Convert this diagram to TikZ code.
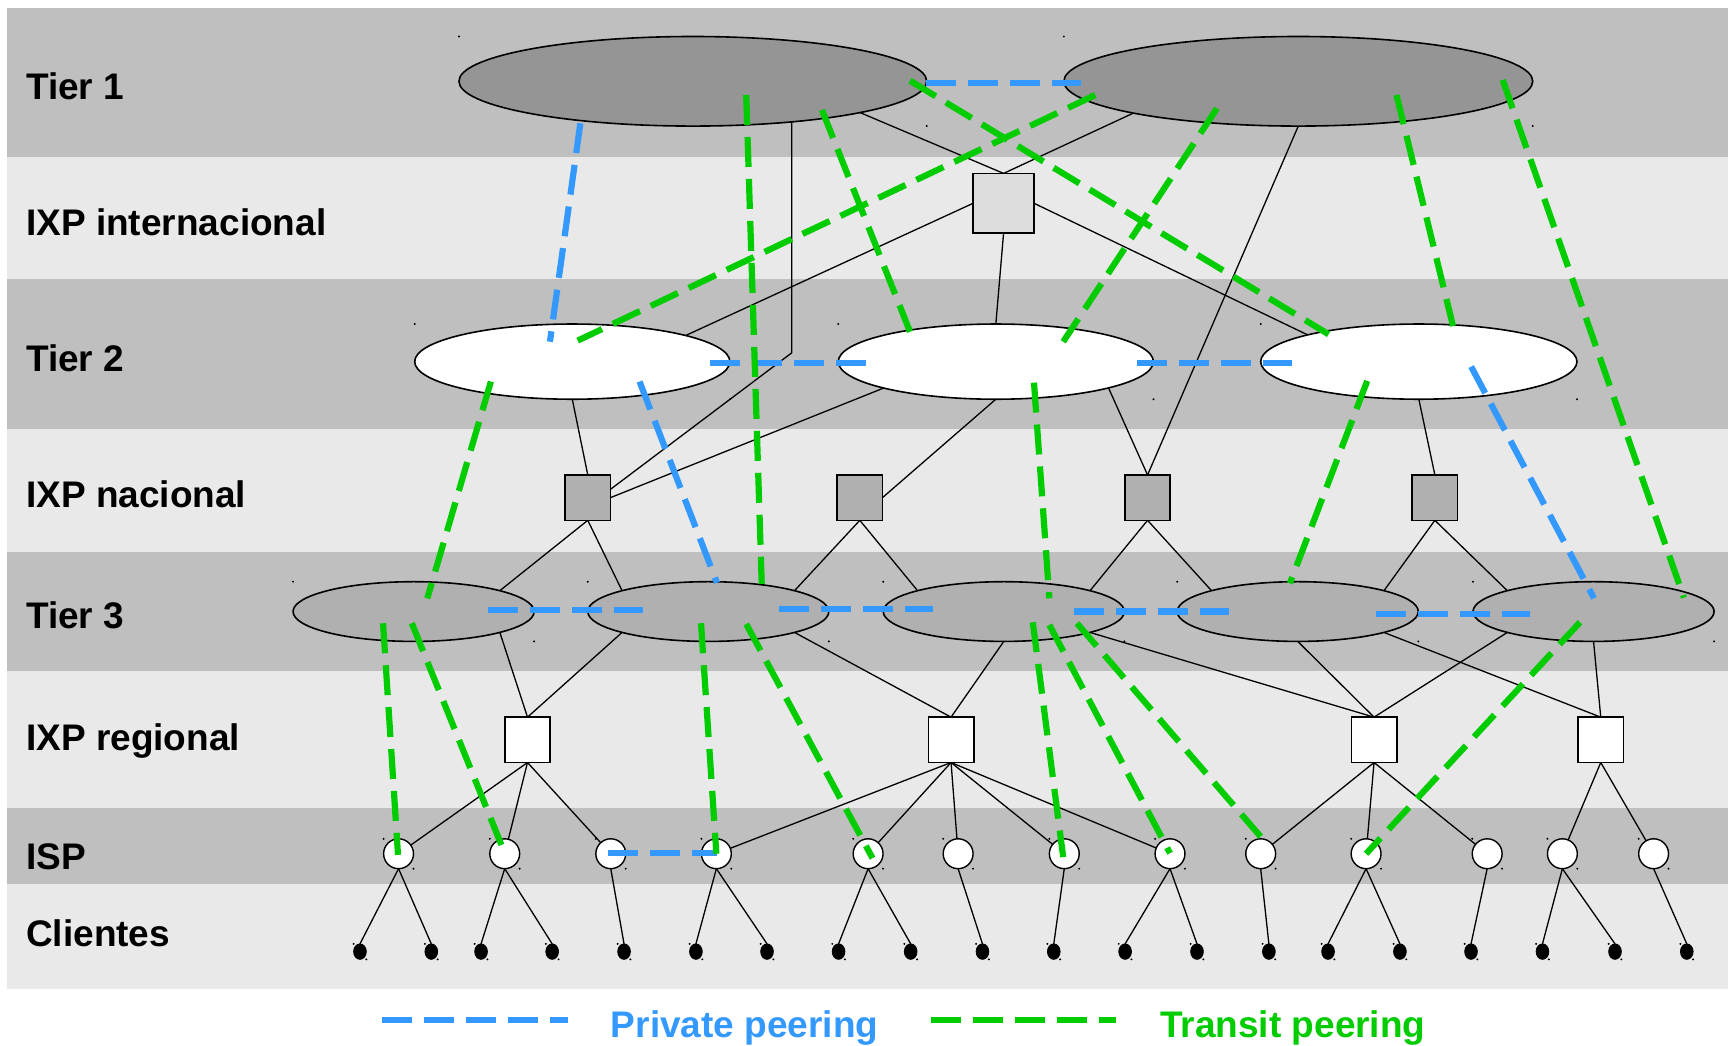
\documentclass[tikz,border=0pt]{standalone}
\usepackage{fontspec}
\setmainfont{Liberation Sans}
\usetikzlibrary{shapes.geometric,calc}
\def\uu{1.1059pt}
\definecolor{bandD}{HTML}{BFBFBF}
\definecolor{bandL}{HTML}{E9E9E9}
\definecolor{tone}{HTML}{959595}
\definecolor{tthree}{HTML}{B0B0B0}
\definecolor{ixint}{HTML}{DCDCDC}
\definecolor{pblue}{HTML}{3399FF}
\definecolor{tgreen}{HTML}{00CC00}
\pgfdeclarelayer{bands}
\pgfdeclarelayer{wires}
\pgfsetlayers{bands,wires,main}
\begin{document}
\begin{tikzpicture}[x=\uu,y=-\uu,
  lbl/.style={anchor=base west, inner sep=0, font=\fontsize{37}{40}\selectfont\bfseries},
  ell/.style={ellipse, draw, line width=1.6pt, inner sep=0, outer sep=0},
  box/.style={rectangle, draw, line width=1.6pt, inner sep=0, outer sep=0, minimum width=41*\uu, minimum height=41*\uu},
  ispnode/.style={ell, fill=white, line width=1.4pt, minimum width=27*\uu, minimum height=27*\uu},
  client/.style={ell, fill=black, line width=0.8pt, minimum width=11.5*\uu, minimum height=14*\uu},
  wire/.style={line width=1.3pt, black},
  dashline/.style={line width=6.2pt, dash pattern=on 30pt off 12pt},
  priv/.style={dashline, pblue},
  trans/.style={dashline, tgreen}]
\useasboundingbox (0,0) rectangle (1568,945);

% ---------- bands ----------
\begin{pgfonlayer}{bands}
\fill[white] (0,0) rectangle (1568,945);
\fill[bandD] (6,7)   rectangle (1563,142);
\fill[bandL] (6,142) rectangle (1563,252);
\fill[bandD] (6,252) rectangle (1563,388);
\fill[bandL] (6,388) rectangle (1563,499);
\fill[bandD] (6,499) rectangle (1563,607);
\fill[bandL] (6,607) rectangle (1563,731);
\fill[bandD] (6,731) rectangle (1563,799);
\fill[bandL] (6,799) rectangle (1563,894);
\end{pgfonlayer}

% ---------- labels ----------
\node[lbl] (lt1) at (23.5,89.8) {Tier 1};
\node[lbl] (lixi) at (23.5,213.1) {IXP internacional};
\node[lbl] (lt2) at (23.5,336.1) {Tier 2};
\node[lbl] (lixn) at (23.5,459.1) {IXP nacional};
\node[lbl] (lt3) at (23.5,568.1) {Tier 3};
\node[lbl] (lixr) at (23.5,678.2) {IXP regional};
\node[lbl] (lisp) at (23.5,786.7) {ISP};
\node[lbl] (lcli) at (23.5,856.0) {Clientes};

% ---------- nodes ----------
\node[ell, fill=tone, minimum width=423*\uu, minimum height=81*\uu] (t1a) at (626.5,73.5) {};
\node[ell, fill=tone, minimum width=424*\uu, minimum height=81*\uu] (t1b) at (1174,73.5) {};
\node[box, fill=ixint, minimum width=55*\uu, minimum height=54*\uu] (ixi) at (907.5,183.8) {};
\node[ell, fill=white, minimum width=285*\uu, minimum height=68*\uu] (t2a) at (517.5,327) {};
\node[ell, fill=white, minimum width=285*\uu, minimum height=68*\uu] (t2b) at (900.5,327) {};
\node[ell, fill=white, minimum width=286*\uu, minimum height=68*\uu] (t2c) at (1283,327) {};
\foreach \x [count=\k] in {531.5,777.5,1037.7,1297.5}
  \node[box, fill=tthree] (n\k) at (\x,450) {};
\foreach \x [count=\k] in {374,640.5,907.7,1173.5,1441}
  \node[ell, fill=tthree, minimum width=218*\uu, minimum height=54*\uu] (e\k) at (\x,553) {};
\foreach \x [count=\k] in {477,860,1242.5,1447.5}
  \node[box, fill=white] (r\k) at (\x,669) {};
\foreach \x [count=\k] in {360.4,456.4,552.3,647.8,785,866.4,962.4,1058,1140,1235.3,1344.8,1412.8,1495.3}
  \node[ispnode] (i\k) at (\x,772) {};
\foreach \x [count=\k] in {325.5,390,435,499.3,564.3,629.3,693.6,758.3,823.5,888.4,952.9,1017.4,1082.4,1147.4,1200.9,1265.9,1330.2,1394.8,1460.4,1525.3}
  \node[client] (c\k) at (\x,860.5) {};

% corner marks
\foreach \n in {t1a,t1b,t2a,t2b,t2c,e1,e2,e3,e4,e5,i1,i2,i3,i4,i5,i6,i7,i8,i9,i10,i11,i12,i13,c1,c2,c3,c4,c5,c6,c7,c8,c9,c10,c11,c12,c13,c14,c15,c16,c17,c18,c19,c20}{
  \fill ($(\n.north -| \n.west)$) circle (1.1pt);
  \fill ($(\n.south -| \n.east)$) circle (1.1pt);
}

% ---------- solid connectors ----------
\begin{pgfonlayer}{wires}
\draw[wire] ([shift={(151.2,28.3)}]t1a.center) -- (ixi.north);
\draw[wire] ([shift={(-149.2,28.8)}]t1b.center) -- (ixi.north);
\draw[wire] ([shift={(89.5,36.7)}]t1a.center) -- ([shift={(89.5,245.5)}]t1a.center) -- ([shift={(0,-7.5)}]n1.east);
\draw[wire] (ixi.west) -- ([shift={(102.5,-23.6)}]t2a.center);
\draw[wire] (ixi.south) -- (t2b.north);
\draw[wire] (ixi.east) -- ([shift={(-100.6,-24.2)}]t2c.center);
\draw[wire] (t1b.south) -- (n3.north);
\draw[wire] (t2a.south) -- (n1.north);
\draw[wire] ([shift={(-101.5,23.9)}]t2b.center) -- (n1.east);
\draw[wire] (t2b.south) -- (n2.east);
\draw[wire] ([shift={(101.9,23.8)}]t2b.center) -- (n3.north);
\draw[wire] (t2c.south) -- (n4.north);
% nacional -> tier 3
\draw[wire] (n1.south) -- ([shift={(78,-18.9)}]e1.center);
\draw[wire] (n1.south) -- ([shift={(-78,-18.9)}]e2.center);
\draw[wire] (n2.south) -- ([shift={(78,-18.9)}]e2.center);
\draw[wire] (n2.south) -- ([shift={(-78,-18.9)}]e3.center);
\draw[wire] (n3.south) -- ([shift={(78,-18.9)}]e3.center);
\draw[wire] (n3.south) -- ([shift={(-78,-18.9)}]e4.center);
\draw[wire] (n4.south) -- ([shift={(78,-18.9)}]e4.center);
\draw[wire] (n4.south) -- ([shift={(-78,-18.9)}]e5.center);
% tier 3 -> regional
\draw[wire] ([shift={(78,18.9)}]e1.center) -- (r1.north);
\draw[wire] ([shift={(-78,18.9)}]e2.center) -- (r1.north);
\draw[wire] ([shift={(78,18.9)}]e2.center) -- (r2.north);
\draw[wire] (e3.south) -- (r2.north);
\draw[wire] ([shift={(78,18.9)}]e3.center) -- (r3.north);
\draw[wire] (e4.south) -- (r3.north);
\draw[wire] ([shift={(78,18.9)}]e4.center) -- (r4.north);
\draw[wire] ([shift={(-78,18.9)}]e5.center) -- (r3.north);
\draw[wire] (e5.south) -- (r4.north);
% regional -> ISP
\foreach \k in {1,2,3} \draw[wire] (r1.south) -- (i\k);
\foreach \k in {4,5,6,7,8} \draw[wire] (r2.south) -- (i\k);
\foreach \k in {9,10,11} \draw[wire] (r3.south) -- (i\k);
\foreach \k in {12,13} \draw[wire] (r4.south) -- (i\k);
% ISP -> clients
\foreach \a/\b in {1/1,1/2,2/3,2/4,3/5,4/6,4/7,5/8,5/9,6/10,7/11,8/12,8/13,9/14,10/15,10/16,11/17,12/18,12/19,13/20}
  \draw[wire] (i\a.south) -- (c\b.north);
\end{pgfonlayer}

% ---------- private peering ----------
\draw[priv] ([shift={(210.8,1.2)}]t1a.center) -- ([shift={(-196.8,1.2)}]t1b.center);
\draw[priv] ([shift={(-101.7,38)}]t1a.center) -- ([shift={(-20.2,-18)}]t2a.center);
\draw[priv] ([shift={(124.7,1.5)}]t2a.center) -- ([shift={(-117.5,1.5)}]t2b.center);
\draw[priv] ([shift={(127.5,1.5)}]t2b.center) -- ([shift={(-115.1,1.5)}]t2c.center);
\draw[priv] ([shift={(60.8,18)}]t2a.center) -- ([shift={(7.8,-26.1)}]e2.center);
\draw[priv] ([shift={(47.3,4.5)}]t2c.center) -- ([shift={(0.4,-12)}]e5.center);
\draw[priv] ([shift={(67.3,-1.1)}]e1.center) -- ([shift={(-59.1,-1.1)}]e2.center);
\draw[priv] ([shift={(64.3,-2.3)}]e2.center) -- ([shift={(-63.7,-2.3)}]e3.center);
\draw[priv] ([shift={(63.7,0)}]e3.center) -- ([shift={(-62.2,0)}]e4.center);
\draw[priv] ([shift={(70.4,2.2)}]e4.center) -- ([shift={(-57.2,2.2)}]e5.center);
\draw[priv] ([shift={(-2.5,-0.6)}]i3.center) -- ([shift={(0.5,-0.6)}]i4.center);

% ---------- transit peering ----------
\draw[trans] ([shift={(196.4,-0.5)}]t1a.center) -- ([shift={(-81.6,-24.7)}]t2c.center);
\draw[trans] ([shift={(-183.6,12.4)}]t1b.center) -- ([shift={(4.9,-19)}]t2a.center);
\draw[trans] ([shift={(48.3,12.4)}]t1a.center) -- ([shift={(48.3,-25)}]e2.center);
\draw[trans] ([shift={(116.8,26)}]t1a.center) -- ([shift={(-77.6,-27)}]t2b.center);
\draw[trans] ([shift={(-73.6,24.5)}]t1b.center) -- ([shift={(60.9,-18)}]t2b.center);
\draw[trans] ([shift={(88.8,12.4)}]t1b.center) -- ([shift={(30.9,-32.2)}]t2c.center);
\draw[trans] ([shift={(184.8,-1.2)}]t1b.center) -- ([shift={(81.7,-12.6)}]e5.center);
\draw[trans] ([shift={(-73.6,18)}]t2a.center) -- ([shift={(12.4,-12)}]e1.center);
\draw[trans] ([shift={(34.5,19)}]t2b.center) -- ([shift={(41.2,-12)}]e3.center);
\draw[trans] ([shift={(-46.7,17.5)}]t2c.center) -- ([shift={(-7.1,-25.5)}]e4.center);
\draw[trans] ([shift={(-27.6,10.6)}]e1.center) -- ([shift={(-0.5,1)}]i1.center);
\draw[trans] ([shift={(-1.6,10.6)}]e1.center) -- ([shift={(-3,-8)}]i2.center);
\draw[trans] ([shift={(-6.6,10.6)}]e2.center) -- (i4.center);
\draw[trans] ([shift={(34.3,11.3)}]e2.center) -- ([shift={(4,4)}]i5.center);
\draw[trans] ([shift={(26.2,9.7)}]e3.center) -- ([shift={(-1,3)}]i7.center);
\draw[trans] ([shift={(41.2,12.1)}]e3.center) -- ([shift={(0,-0.5)}]i8.center);
\draw[trans] ([shift={(66.2,10.6)}]e3.center) -- ([shift={(-0.1,-15.5)}]i9.center);
\draw[trans] ([shift={(-12.3,9.7)}]e5.center) -- (i10.center);

% ---------- legend ----------
\coordinate (lb1) at (345,922);
\coordinate (lb2) at (513.4,922);
\coordinate (lg1) at (841.5,922);
\coordinate (lg2) at (1009,922);
\draw[priv] (lb1) -- (lb2);
\draw[trans] (lg1) -- (lg2);
\node[lbl, text=pblue] (lpriv) at (552.3,938) {Private peering};
\node[lbl, text=tgreen] (ltrans) at (1049,938) {Transit peering};
\end{tikzpicture}
\end{document}
